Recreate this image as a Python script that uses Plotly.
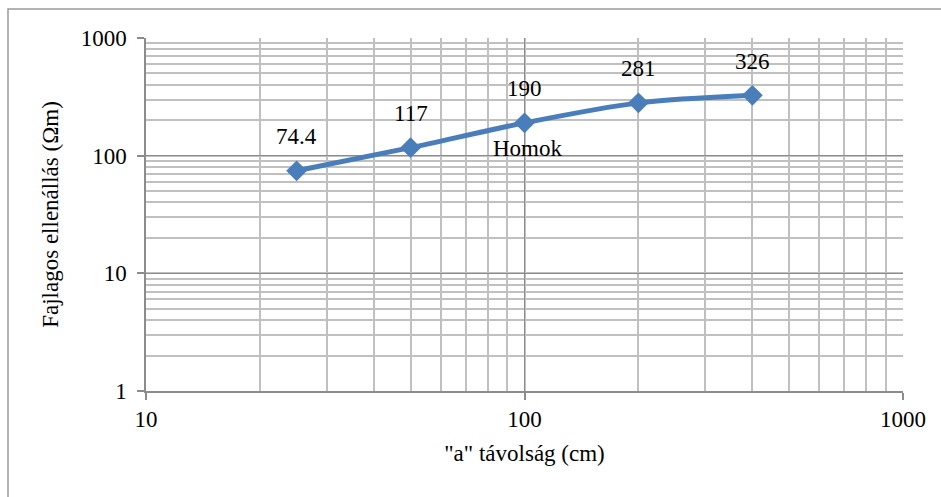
import math
import plotly.graph_objects as go

# Electrode spacing "a" (cm) and apparent resistivity (Ωm)
distance_cm = [25, 50, 100, 200, 400]
resistivity = [74.4, 117, 190, 281, 326]
series_name = "Homok"

x_ticks = [10, 100, 1000]
y_ticks = [1, 10, 100, 1000]

FONT = "Liberation Serif, Times New Roman, serif"
LINE_COLOR = "#4a7ebb"
TEXT_FONT = dict(family=FONT, size=23, color="#000000")

fig = go.Figure()
fig.add_trace(go.Scatter(
    x=distance_cm,
    y=resistivity,
    mode="lines+markers",
    name=series_name,
    line=dict(color=LINE_COLOR, width=5, shape="spline", smoothing=0.8),
    marker=dict(symbol="diamond", size=16, color=LINE_COLOR),
    showlegend=False,
))

# value labels above each point (annotation coordinates on log axes are log10)
for xv, yv in zip(distance_cm, resistivity):
    fig.add_annotation(
        x=math.log10(xv), y=math.log10(yv), xref="x", yref="y", text=f"{yv:g}",
        showarrow=False, yshift=34, font=TEXT_FONT,
    )

# series name next to the middle point
fig.add_annotation(
    x=math.log10(distance_cm[2]), y=math.log10(resistivity[2]), xref="x", yref="y",
    text=series_name, showarrow=False, xshift=3, yshift=-26, font=TEXT_FONT,
)

axis_common = dict(
    type="log",
    showline=True,
    linecolor="#8c8c8c",
    linewidth=1.5,
    ticks="outside",
    ticklen=7,
    tickcolor="#8c8c8c",
    tickwidth=1.5,
    showgrid=True,
    gridcolor="#8c8c8c",
    gridwidth=1.3,
    zeroline=False,
    tickfont=TEXT_FONT,
    minor=dict(dtick="D1", showgrid=True, gridcolor="#c0c0c0", gridwidth=1.5,
               ticks=""),
    mirror=False,
)

fig.update_xaxes(
    **axis_common,
    range=[1, 3],
    tickvals=x_ticks,
    ticktext=[str(v) for v in x_ticks],
    title=dict(text='"a" távolság (cm)', font=TEXT_FONT, standoff=14),
)
fig.update_yaxes(
    **axis_common,
    range=[0, 3],
    tickvals=y_ticks,
    ticktext=[str(v) for v in y_ticks],
    ticklabelstandoff=6,
    title=dict(text="Fajlagos ellenállás (Ωm)", font=TEXT_FONT, standoff=16),
)

# outer chart border
fig.add_shape(
    type="rect", xref="paper", yref="paper",
    x0=-0.1823, x1=1.3, y0=-0.5, y1=1.0822,
    line=dict(color="#9a9a9a", width=1.5), fillcolor="rgba(0,0,0,0)", layer="below",
)

fig.update_layout(
    width=941,
    height=497,
    margin=dict(l=146, r=38, t=38, b=106),
    paper_bgcolor="#ffffff",
    plot_bgcolor="#ffffff",
    font=dict(family=FONT, color="#000000"),
)

fig.write_html("out.html")
